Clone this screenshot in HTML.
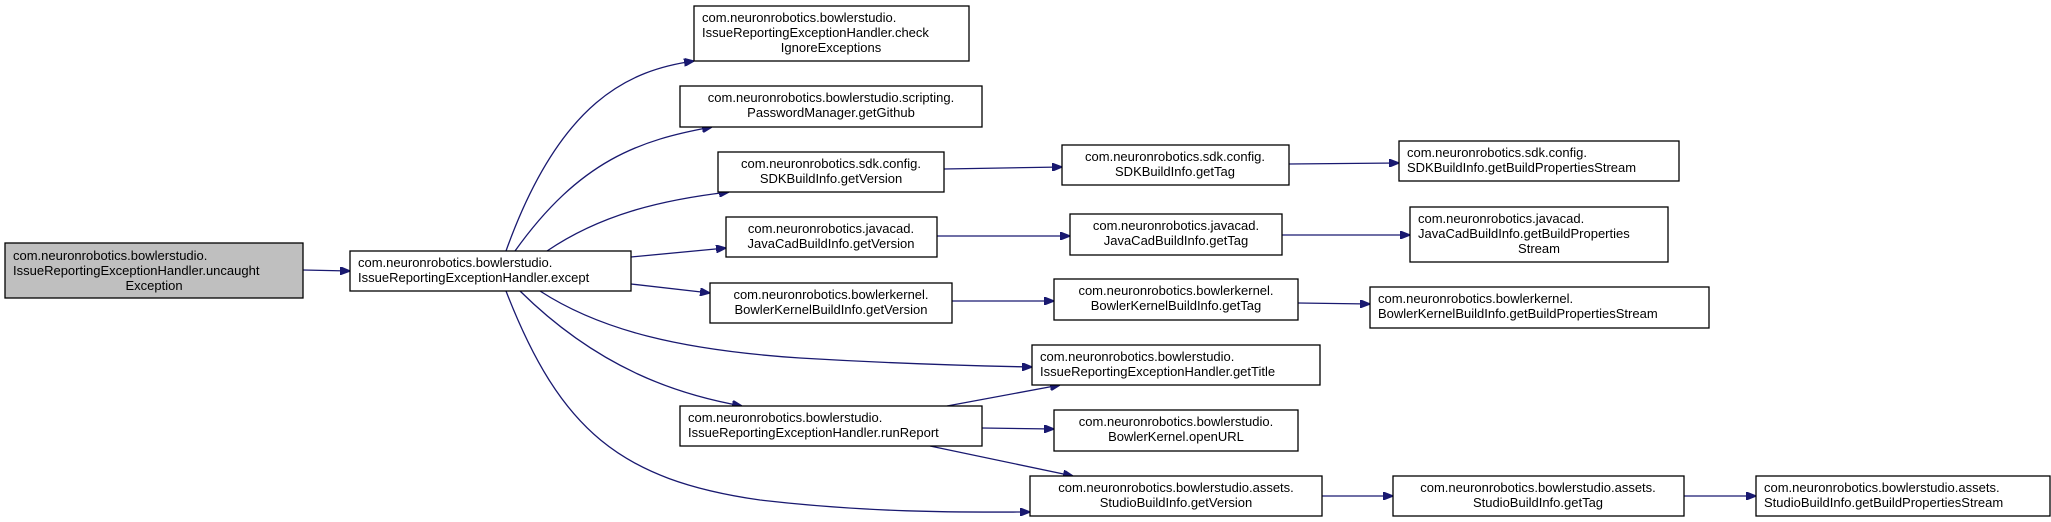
<!DOCTYPE html>
<html><head><meta charset="utf-8"><style>
html,body{margin:0;padding:0;background:#fff;}
svg{display:block;}
text{font-family:"Liberation Sans",Helvetica,Arial,sans-serif;font-size:13px;fill:#000;}
rect{fill:#fff;stroke:#000;stroke-width:1.3;}
path{fill:none;stroke:#191970;stroke-width:1.3;}
</style></head><body>
<svg width="2051" height="522" viewBox="0 0 2051 522" xmlns="http://www.w3.org/2000/svg">
<defs><marker id="a" markerWidth="10" markerHeight="8" refX="10" refY="4" orient="auto" markerUnits="userSpaceOnUse"><path d="M0,0 L10,4 L0,8 Z" style="fill:#191970;stroke:#191970"/></marker></defs>

<!-- edges -->
<g marker-end="url(#a)">
<path d="M303,270 L350,271"/>
<path d="M506,251 C560,100 630,70 694,61"/>
<path d="M515,251 C580,160 640,140 712,127"/>
<path d="M547,251 C600,215 660,200 729,192"/>
<path d="M631,257 L726,248"/>
<path d="M631,284 L710,293"/>
<path d="M540,291 C600,330 680,350 800,358 C900,364 980,366 1032,367"/>
<path d="M520,291 C600,370 680,395 742,406"/>
<path d="M506,291 C560,430 620,480 760,500 C880,514 980,512 1030,512"/>
<path d="M947,406 L1060,385"/>
<path d="M982,428 L1054,429"/>
<path d="M930,446 L1073,476"/>
<path d="M944,169 L1062,167"/>
<path d="M937,236 L1070,236"/>
<path d="M952,301 L1054,301"/>
<path d="M1289,164 L1399,163"/>
<path d="M1282,235 L1410,235"/>
<path d="M1298,303 L1370,304"/>
<path d="M1322,496 L1393,496"/>
<path d="M1684,496 L1756,496"/>
</g>

<!-- nodes -->
<rect x="5" y="243" width="298" height="55" style="fill:#bfbfbf"/>
<text x="154" y="260" text-anchor="middle"><tspan x="13" text-anchor="start">com.neuronrobotics.bowlerstudio.</tspan></text>
<text x="13" y="275">IssueReportingExceptionHandler.uncaught</text>
<text x="154" y="290" text-anchor="middle">Exception</text>

<rect x="350" y="251" width="281" height="40"/>
<text x="358" y="267">com.neuronrobotics.bowlerstudio.</text>
<text x="358" y="282">IssueReportingExceptionHandler.except</text>

<rect x="694" y="6" width="275" height="55"/>
<text x="702" y="22">com.neuronrobotics.bowlerstudio.</text>
<text x="702" y="37">IssueReportingExceptionHandler.check</text>
<text x="831" y="52" text-anchor="middle">IgnoreExceptions</text>

<rect x="680" y="86" width="302" height="41"/>
<text x="831" y="102" text-anchor="middle">com.neuronrobotics.bowlerstudio.scripting.</text>
<text x="831" y="117" text-anchor="middle">PasswordManager.getGithub</text>

<rect x="718" y="152" width="226" height="40"/>
<text x="831" y="168" text-anchor="middle">com.neuronrobotics.sdk.config.</text>
<text x="831" y="183" text-anchor="middle">SDKBuildInfo.getVersion</text>

<rect x="726" y="217" width="211" height="40"/>
<text x="831" y="233" text-anchor="middle">com.neuronrobotics.javacad.</text>
<text x="831" y="248" text-anchor="middle">JavaCadBuildInfo.getVersion</text>

<rect x="710" y="283" width="242" height="40"/>
<text x="831" y="299" text-anchor="middle">com.neuronrobotics.bowlerkernel.</text>
<text x="831" y="314" text-anchor="middle">BowlerKernelBuildInfo.getVersion</text>

<rect x="680" y="406" width="302" height="40"/>
<text x="688" y="422">com.neuronrobotics.bowlerstudio.</text>
<text x="688" y="437">IssueReportingExceptionHandler.runReport</text>

<rect x="1062" y="145" width="227" height="40"/>
<text x="1175" y="161" text-anchor="middle">com.neuronrobotics.sdk.config.</text>
<text x="1175" y="176" text-anchor="middle">SDKBuildInfo.getTag</text>

<rect x="1399" y="141" width="280" height="40"/>
<text x="1407" y="157">com.neuronrobotics.sdk.config.</text>
<text x="1407" y="172">SDKBuildInfo.getBuildPropertiesStream</text>

<rect x="1070" y="214" width="212" height="41"/>
<text x="1176" y="230" text-anchor="middle">com.neuronrobotics.javacad.</text>
<text x="1176" y="245" text-anchor="middle">JavaCadBuildInfo.getTag</text>

<rect x="1410" y="207" width="258" height="55"/>
<text x="1418" y="223">com.neuronrobotics.javacad.</text>
<text x="1418" y="238">JavaCadBuildInfo.getBuildProperties</text>
<text x="1539" y="253" text-anchor="middle">Stream</text>

<rect x="1054" y="279" width="244" height="41"/>
<text x="1176" y="295" text-anchor="middle">com.neuronrobotics.bowlerkernel.</text>
<text x="1176" y="310" text-anchor="middle">BowlerKernelBuildInfo.getTag</text>

<rect x="1370" y="287" width="339" height="41"/>
<text x="1378" y="303">com.neuronrobotics.bowlerkernel.</text>
<text x="1378" y="318">BowlerKernelBuildInfo.getBuildPropertiesStream</text>

<rect x="1032" y="345" width="288" height="40"/>
<text x="1040" y="361">com.neuronrobotics.bowlerstudio.</text>
<text x="1040" y="376">IssueReportingExceptionHandler.getTitle</text>

<rect x="1054" y="410" width="244" height="41"/>
<text x="1176" y="426" text-anchor="middle">com.neuronrobotics.bowlerstudio.</text>
<text x="1176" y="441" text-anchor="middle">BowlerKernel.openURL</text>

<rect x="1030" y="476" width="292" height="40"/>
<text x="1176" y="492" text-anchor="middle">com.neuronrobotics.bowlerstudio.assets.</text>
<text x="1176" y="507" text-anchor="middle">StudioBuildInfo.getVersion</text>

<rect x="1393" y="476" width="291" height="40"/>
<text x="1538" y="492" text-anchor="middle">com.neuronrobotics.bowlerstudio.assets.</text>
<text x="1538" y="507" text-anchor="middle">StudioBuildInfo.getTag</text>

<rect x="1756" y="476" width="294" height="40"/>
<text x="1764" y="492">com.neuronrobotics.bowlerstudio.assets.</text>
<text x="1764" y="507">StudioBuildInfo.getBuildPropertiesStream</text>
</svg>
</body></html>
